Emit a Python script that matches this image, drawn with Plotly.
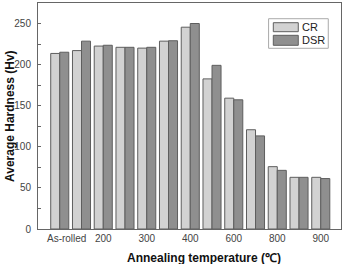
import plotly.graph_objects as go

categories = ["As-rolled", "150", "200", "250", "300", "350", "400",
              "500", "600", "700", "800", "850", "900"]
cr_values = [214, 217.5, 223, 221.5, 220.5, 229, 246, 183, 159.5, 121, 76, 63, 63]
dsr_values = [215.5, 229, 224, 221.5, 221.5, 229.5, 250.5, 199.5, 157.5, 113.5, 71.5, 63, 61.5]
shown_labels = ["As-rolled", "200", "300", "400", "600", "800", "900"]
series_names = ["CR", "DSR"]

FONT = "Liberation Sans, Arial, sans-serif"
cr_fill, dsr_fill, edge = "#d2d2d2", "#8f8f8f", "#5e5e5e"

x = list(range(len(categories)))
tickvals = [categories.index(l) for l in shown_labels]
tickvals = [v + 0.32 if categories[v] == "As-rolled" else v for v in tickvals]

fig = go.Figure()
fig.add_trace(go.Bar(x=x, y=cr_values, name=series_names[0], showlegend=False,
                     marker=dict(color=cr_fill, line=dict(color=edge, width=1))))
fig.add_trace(go.Bar(x=x, y=dsr_values, name=series_names[1], showlegend=False,
                     marker=dict(color=dsr_fill, line=dict(color=edge, width=1))))

fig.update_layout(
    width=344, height=264,
    margin=dict(l=38, r=3, t=3, b=35),
    paper_bgcolor="white", plot_bgcolor="white",
    barmode="group", bargap=0.17, bargroupgap=0,
    font=dict(family=FONT, size=10, color="#444"),
)
fig.update_xaxes(range=[-1.0, 12.93], tickvals=tickvals, ticktext=shown_labels,
                 showline=True, linecolor="#666", linewidth=1, mirror=True,
                 ticks="", showgrid=False, zeroline=False,
                 tickfont=dict(size=10, color="#444"))
fig.update_yaxes(range=[0, 275.5], dtick=50, tick0=0,
                 showline=True, linecolor="#666", linewidth=1, mirror=True,
                 ticks="inside", ticklen=3, tickcolor="#666",
                 minor=dict(dtick=25, ticks="inside", ticklen=3, tickcolor="#666"),
                 showgrid=False, zeroline=False, ticklabelstandoff=4,
                 tickfont=dict(size=10, color="#444"))

# axis titles
fig.add_annotation(text="<b>Average Hardness (Hv)</b>", xref="paper", yref="paper",
                   x=-0.0924, y=0.5, textangle=-90, showarrow=False,
                   xanchor="center", yanchor="middle",
                   font=dict(family=FONT, size=12, color="#111"))
fig.add_annotation(text="<b>Annealing temperature (℃)</b>", xref="paper", yref="paper",
                   x=0.547, y=-0.13, showarrow=False, xanchor="center", yanchor="middle",
                   font=dict(family=FONT, size=12, color="#111"))

# legend box
fig.add_shape(type="rect", xref="paper", yref="paper", x0=0.761, x1=0.958,
              y0=0.7996, y1=0.9305, line=dict(color="#aaa", width=1), fillcolor="white")
legend_rows = [(series_names[0], cr_fill, 0.9128, 0.873, 0.893),
               (series_names[1], dsr_fill, 0.857, 0.8128, 0.835)]
for name, col, y1, y0, yt in legend_rows:
    fig.add_shape(type="rect", xref="paper", yref="paper", x0=0.7766, x1=0.859,
                  y0=y0, y1=y1, line=dict(color=edge, width=1), fillcolor=col)
    fig.add_annotation(text=name, xref="paper", yref="paper", x=0.8657, y=yt,
                       xanchor="left", yanchor="middle", showarrow=False,
                       font=dict(family=FONT, size=11, color="#222"))

fig.write_html("out.html")
